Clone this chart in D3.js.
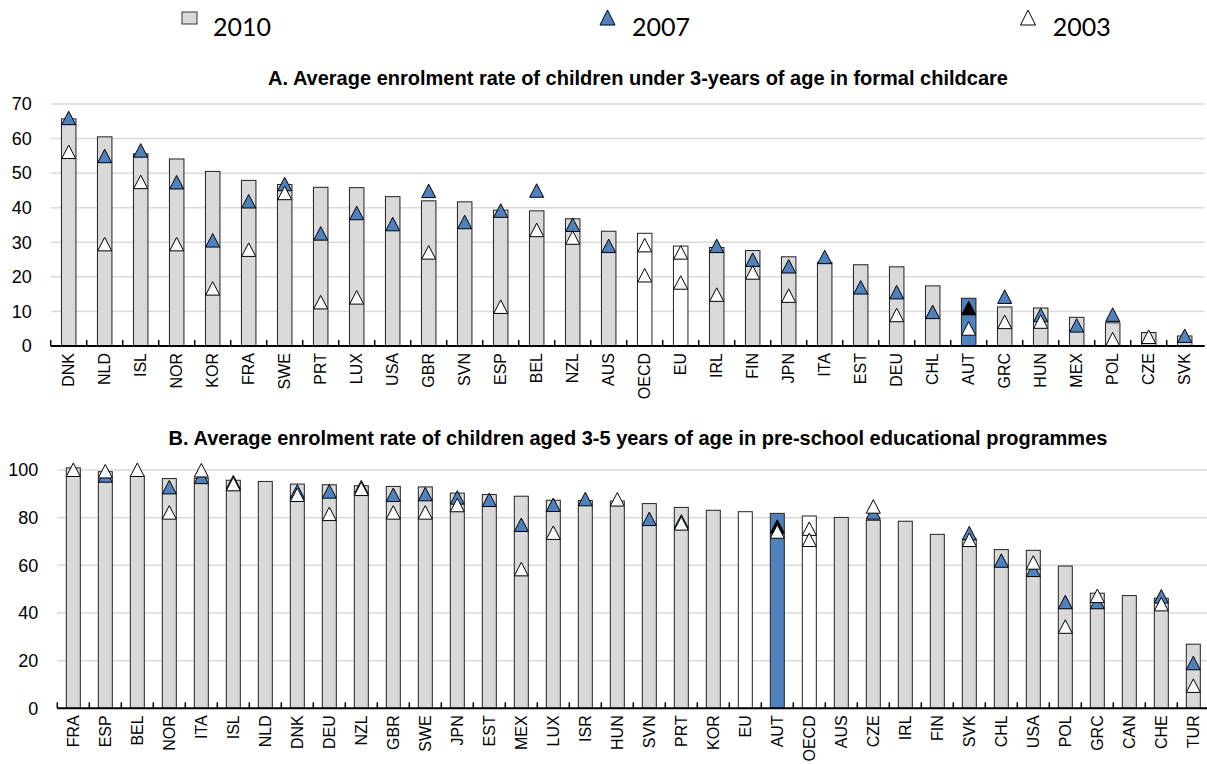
<!DOCTYPE html>
<html>
<head>
<meta charset="utf-8">
<script src="https://d3js.org/d3.v7.min.js"></script>
<style>
  body { margin: 0; background: #fff; }
  text { font-family: "Liberation Sans", Arial, sans-serif; fill: #000; }
</style>
</head>
<body>
<script>
// Panel A: children under 3 in formal childcare
var catsA = ["DNK","NLD","ISL","NOR","KOR","FRA","SWE","PRT","LUX","USA","GBR","SVN","ESP","BEL","NZL","AUS","OECD","EU","IRL","FIN","JPN","ITA","EST","DEU","CHL","AUT","GRC","HUN","MEX","POL","CZE","SVK"];
var a2010 = [65.7,60.5,55.6,54.1,50.5,47.9,46.7,45.9,45.8,43.2,42.0,41.7,39.3,39.1,36.8,33.2,32.6,28.9,28.5,27.6,25.8,24.2,23.5,22.9,17.4,13.8,11.3,11.0,8.3,6.7,3.9,2.9];
var a2007 = [65.9,54.9,56.5,47.3,30.5,41.8,46.8,32.5,38.4,35.2,44.8,35.8,39.1,44.9,35.0,28.9,29.1,27.0,28.9,24.9,23.0,25.7,16.9,15.5,9.8,10.9,14.2,8.9,5.9,9.0,null,2.9];
var a2003 = [56.1,29.4,47.4,29.4,16.6,27.8,44.2,12.6,14.0,null,27.0,null,11.3,33.5,31.3,null,20.4,18.3,14.8,21.2,14.5,null,null,8.9,null,5.0,6.9,7.0,null,1.9,2.6,null];
var ticksA = [0,10,20,30,40,50,60,70];

// Panel B: children aged 3-5 in pre-school
var catsB = ["FRA","ESP","BEL","NOR","ITA","ISL","NLD","DNK","DEU","NZL","GBR","SWE","JPN","EST","MEX","LUX","ISR","HUN","SVN","PRT","KOR","EU","AUT","OECD","AUS","CZE","IRL","FIN","SVK","CHL","USA","POL","GRC","CAN","CHE","TUR"];
var b2010 = [100.9,99.3,97.5,96.4,96.5,95.7,95.2,94.1,93.8,93.4,93.1,92.9,90.3,89.7,89.0,87.3,87.2,87.0,85.9,84.3,83.1,82.5,81.8,80.7,80.1,78.9,78.5,73.0,71.0,66.6,66.3,59.7,48.3,47.3,46.2,26.9];
var b2007 = [null,97.6,null,92.7,97.0,94.8,null,90.9,90.9,92.7,89.5,89.8,88.4,87.4,76.9,85.3,87.7,null,79.4,78.3,null,null,76.2,75.3,null,82.1,null,null,73.4,61.9,58.0,44.5,44.5,null,46.9,18.9];
var b2003 = [100,99.4,100,82.1,99.8,94.0,null,89.5,81.5,92.0,82.1,82.1,85.2,null,58.3,73.6,null,87.6,null,77.5,null,null,74.1,70.6,null,84.6,null,null,70.6,null,61.1,34.2,47.1,null,43.6,9.4];
var ticksB = [0,20,40,60,80,100];

var legendLabels = ["2010","2007","2003"];

var grey = "#d9d9d9", blue = "#4f81bd";

var svg = d3.select("body").append("svg")
    .attr("width", 1207)
    .attr("height", 764);

function barFill(c) {
    if (c === "OECD" || c === "EU") return "#fff";
    if (c === "AUT") return blue;
    return grey;
}
function fill2007(c) {
    if (c === "OECD" || c === "EU") return "#fff";
    if (c === "AUT") return "#000";
    return blue;
}

var tri = "M0,-7L7,6.5L-7,6.5Z";

function drawPanel(p) {
    var x = d3.scaleBand().domain(p.cats).range([p.x0, p.x1]).padding(0);
    var y = d3.scaleLinear().domain([0, p.yMax]).range([p.y0, p.yTop]);
    var g = svg.append("g");

    g.append("text")
        .attr("x", 638)
        .attr("y", p.titleY)
        .attr("text-anchor", "middle")
        .style("font-family", "'Liberation Sans Narrow', 'Liberation Sans', Arial, sans-serif")
        .style("font-weight", "bold")
        .style("font-size", "20px")
        .text(p.title);

    g.selectAll(".grid")
        .data(p.ticks.slice(1))
        .enter().append("line")
        .attr("x1", p.x0)
        .attr("x2", Math.min(p.x1 + 2, 1207))
        .attr("y1", function(d) { return y(d); })
        .attr("y2", function(d) { return y(d); })
        .attr("stroke", grey)
        .attr("stroke-width", 1.5);

    g.selectAll(".ylab")
        .data(p.ticks)
        .enter().append("text")
        .attr("x", p.x0 - 19)
        .attr("y", function(d) { return y(d); })
        .attr("dy", "0.35em")
        .attr("text-anchor", "end")
        .style("font-size", "18px")
        .text(function(d) { return d; });

    var bw = p.barW;
    g.selectAll(".bar")
        .data(p.cats)
        .enter().append("rect")
        .attr("x", function(c) { return x(c) + (x.bandwidth() - bw) / 2; })
        .attr("y", function(c, i) { return y(p.v2010[i]); })
        .attr("width", bw)
        .attr("height", function(c, i) { return p.y0 - y(p.v2010[i]); })
        .attr("fill", barFill)
        .attr("stroke", "#222")
        .attr("stroke-width", 1);

    var m07 = p.cats.map(function(c, i) { return {c: c, v: p.v2007[i]}; })
        .filter(function(d) { return d.v != null; });
    g.selectAll(".m07")
        .data(m07)
        .enter().append("path")
        .attr("d", tri)
        .attr("transform", function(d) {
            return "translate(" + (x(d.c) + x.bandwidth() / 2) + "," + y(d.v) + ")";
        })
        .attr("fill", function(d) { return fill2007(d.c); })
        .attr("stroke", "#000")
        .attr("stroke-width", 1);

    var m03 = p.cats.map(function(c, i) { return {c: c, v: p.v2003[i]}; })
        .filter(function(d) { return d.v != null; });
    g.selectAll(".m03")
        .data(m03)
        .enter().append("path")
        .attr("d", tri)
        .attr("transform", function(d) {
            return "translate(" + (x(d.c) + x.bandwidth() / 2) + "," + y(d.v) + ")";
        })
        .attr("fill", "#fff")
        .attr("stroke", "#000")
        .attr("stroke-width", 1);

    // axis line with inward ticks at band edges
    g.append("line")
        .attr("x1", p.x0)
        .attr("x2", Math.min(p.x1 + 2, 1207))
        .attr("y1", p.y0)
        .attr("y2", p.y0)
        .attr("stroke", "#000")
        .attr("stroke-width", 2);

    var edges = p.cats.map(function(c) { return x(c); });
    g.selectAll(".tick")
        .data(edges)
        .enter().append("line")
        .attr("x1", function(d) { return d; })
        .attr("x2", function(d) { return d; })
        .attr("y1", p.y0)
        .attr("y2", p.y0 - 6)
        .attr("stroke", "#000")
        .attr("stroke-width", 1.5);

    g.selectAll(".xlab")
        .data(p.cats)
        .enter().append("text")
        .attr("transform", function(c) {
            return "translate(" + (x(c) + x.bandwidth() / 2) + "," + (p.y0 + 7) + ") rotate(-90)";
        })
        .attr("dy", "0.36em")
        .attr("text-anchor", "end")
        .style("font-size", "16px")
        .text(function(c) { return c; });
}

drawPanel({
    cats: catsA, v2010: a2010, v2007: a2007, v2003: a2003, ticks: ticksA,
    x0: 50.7, x1: 50.7 + 36 * catsA.length, y0: 346, yTop: 104, yMax: 70, barW: 14.5,
    title: "A. Average enrolment rate of children under 3-years of age in formal childcare",
    titleY: 85
});

drawPanel({
    cats: catsB, v2010: b2010, v2007: b2007, v2003: b2003, ticks: ticksB,
    x0: 57.3, x1: 57.3 + 32 * catsB.length, y0: 708.3, yTop: 470, yMax: 100, barW: 14,
    title: "B. Average enrolment rate of children aged 3-5 years of age in pre-school educational programmes",
    titleY: 445
});

// legend
var legend = svg.append("g");
legend.append("rect")
    .attr("x", 182)
    .attr("y", 12)
    .attr("width", 15)
    .attr("height", 12)
    .attr("fill", grey)
    .attr("stroke", "#333");
legend.append("path")
    .attr("d", "M0,-7.5L7.5,7.5L-7.5,7.5Z")
    .attr("transform", "translate(607.5,17.5)")
    .attr("fill", blue)
    .attr("stroke", "#000");
legend.append("path")
    .attr("d", "M0,-7.5L7.5,7.5L-7.5,7.5Z")
    .attr("transform", "translate(1028,17.5)")
    .attr("fill", "#fff")
    .attr("stroke", "#000");
legend.selectAll(".legText")
    .data(legendLabels)
    .enter().append("text")
    .attr("x", function(d, i) { return [213, 632, 1052.7][i]; })
    .attr("y", 35.5)
    .style("font-family", "Lato, 'Open Sans', sans-serif")
    .style("font-size", "25px")
    .text(function(d) { return d; });
</script>
</body>
</html>
